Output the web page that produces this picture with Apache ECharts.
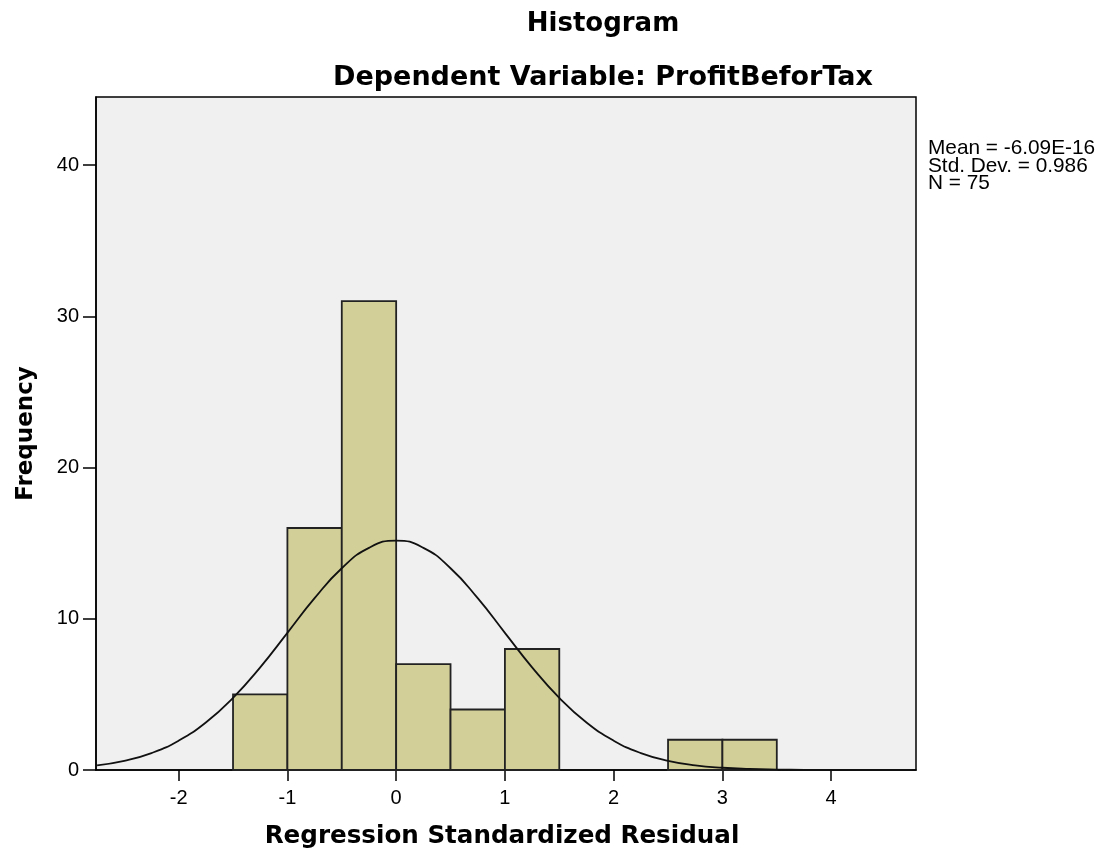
<!DOCTYPE html>
<html><head><meta charset="utf-8">
<script src="https://cdn.jsdelivr.net/npm/echarts@6/dist/echarts.min.js"></script>
<style>html,body{margin:0;padding:0;background:#fff}#c{width:1100px;height:854px}</style>
</head><body><div id="c"></div>
<script>
// Histogram bins (lower edge, upper edge) and frequencies
const binStarts = [-1.5, -1.0, -0.5, 0.0, 0.5, 1.0, 2.5, 3.0];
const binEnds   = [-1.0, -0.5, 0.0, 0.5, 1.0, 1.5, 3.0, 3.5];
const counts    = [5, 16, 31, 7, 4, 8, 2, 2];
// Normal curve points
const curveX = [-2.75,-2.5,-2.25,-2,-1.75,-1.5,-1.25,-1,-0.75,-0.5,-0.25,0,0.25,0.5,0.75,1,1.25,1.5,1.75,2,2.25,2.5,2.75,3,3.25,3.5,3.75,4,4.25,4.5,4.75];
const curveY = [0.31,0.61,1.12,1.94,3.14,4.77,6.79,9.07,11.36,13.34,14.69,15.17,14.69,13.34,11.36,9.07,6.79,4.77,3.14,1.94,1.12,0.61,0.31,0.15,0.07,0.03,0.01,0.004,0.001,0,0];
const xTicks = [-2, -1, 0, 1, 2, 3, 4];
const yTicks = [0, 10, 20, 30, 40];
const statsText = ['Mean = -6.09E-16', 'Std. Dev. = 0.986', 'N = 75'];

const chart = echarts.init(document.getElementById('c'));
const font = 'Liberation Sans, Arial, sans-serif';
const bold = 'DejaVu Sans, sans-serif';
const histData = binStarts.map((s, i) => [s, binEnds[i], counts[i]]);
chart.setOption({
  animation: false,
  backgroundColor: '#fff',
  title: [
    {text: 'Histogram', left: 598, top: 6, textAlign: 'center',
     textStyle: {fontFamily: bold, fontWeight: 'bold', fontSize: 26, color: '#000'}},
    {text: 'Dependent Variable: ProfitBeforTax', left: 598, top: 59, textAlign: 'center',
     textStyle: {fontFamily: bold, fontWeight: 'bold', fontSize: 27, color: '#000'}}
  ],
  grid: {left: 96, right: 184, top: 97, bottom: 81, show: true, backgroundColor: '#f0f0f0',
         borderColor: '#000', borderWidth: 1.5},
  xAxis: {type: 'value', min: -2.76, max: 4.78, position: 'bottom',
    name: 'Regression Standardized Residual', nameLocation: 'middle', nameGap: 54,
    nameTextStyle: {fontFamily: bold, fontWeight: 'bold', fontSize: 24.6, color: '#000', padding: [0, 8, 0, 0]},
    axisLine: {show: true, onZero: false, lineStyle: {color: '#000', width: 1.5}},
    axisTick: {show: true, customValues: xTicks, length: 11, lineStyle: {color: '#000', width: 1.5}},
    axisLabel: {customValues: xTicks, fontFamily: font, fontSize: 20, color: '#000', margin: 18},
    splitLine: {show: false}},
  yAxis: {type: 'value', min: 0, max: 44.5, position: 'left',
    name: 'Frequency', nameLocation: 'middle', nameGap: 58, nameRotate: 90,
    nameTextStyle: {fontFamily: bold, fontWeight: 'bold', fontSize: 23, color: '#000'},
    axisLine: {show: true, onZero: false, lineStyle: {color: '#000', width: 1.5}},
    axisTick: {show: true, customValues: yTicks, length: 13, lineStyle: {color: '#000', width: 1.5}},
    axisLabel: {customValues: yTicks, fontFamily: font, fontSize: 20, color: '#000', margin: 17},
    splitLine: {show: false}},
  graphic: statsText.map((t, i) => ({type: 'text', left: 928, top: 138 + i * 17.5,
    style: {text: t, font: '20.8px ' + font, fill: '#000'}})),
  series: [
    {type: 'custom', data: histData, encode: {x: [0, 1], y: 2},
     renderItem: function (params, api) {
       const p0 = api.coord([api.value(0), api.value(2)]);
       const p1 = api.coord([api.value(1), 0]);
       return {type: 'rect', shape: {x: p0[0], y: p0[1], width: p1[0] - p0[0], height: p1[1] - p0[1]},
         style: {fill: '#d3cf98', stroke: '#222', lineWidth: 1.8}};
     }, z: 2},
    {type: 'line', data: curveX.map((x, i) => [x, curveY[i]]), smooth: true, showSymbol: false,
     lineStyle: {color: '#111', width: 1.8}, z: 3}
  ]
});
</script></body></html>
